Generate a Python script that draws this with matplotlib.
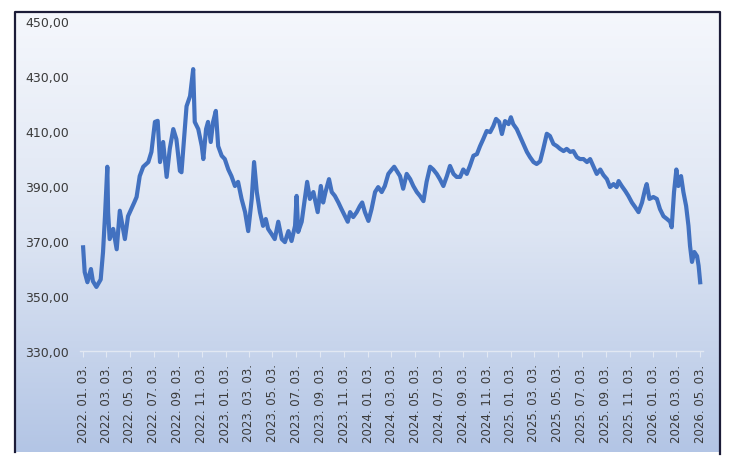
import numpy as np
import pandas as pd
import matplotlib
matplotlib.use('Agg')
import matplotlib.pyplot as plt
from matplotlib.colors import LinearSegmentedColormap
from matplotlib.ticker import FuncFormatter

# daily rate (days counted from the first date)
start_date = '2022-01-03'
day_offset = [0, 4, 11, 20, 25, 34, 45, 51, 56, 62, 64, 68, 77, 86, 94, 107, 115, 131, 137, 145,
              154, 167, 175, 184, 191, 197, 205, 214, 222, 231, 239, 248, 252, 258, 265, 274, 282, 286, 295, 304,
              308, 315, 320, 327, 333, 340, 346, 355, 363, 372, 380, 389, 397, 406, 415, 423, 432, 438, 445, 453,
              461, 468, 474, 483, 491, 500, 509, 517, 526, 534, 543, 547, 551, 560, 568, 574, 581, 590, 601, 609,
              615, 621, 630, 637, 645, 654, 662, 671, 678, 684, 692, 701, 709, 715, 722, 731, 739, 748, 756, 765,
              773, 782, 791, 797, 812, 820, 829, 838, 846, 855, 863, 872, 880, 889, 897, 906, 914, 923, 932, 940,
              949, 957, 966, 974, 983, 991, 1000, 1009, 1017, 1025, 1034, 1043, 1051, 1058, 1066, 1073, 1081, 1090, 1096, 1102,
              1111, 1120, 1128, 1137, 1145, 1154, 1162, 1171, 1179, 1188, 1196, 1205, 1214, 1222, 1231, 1239, 1248, 1256, 1265, 1273,
              1282, 1291, 1299, 1307, 1316, 1325, 1333, 1342, 1350, 1359, 1367, 1372, 1380, 1389, 1397, 1406, 1414, 1423, 1432, 1440,
              1444, 1451, 1461, 1470, 1478, 1487, 1496, 1504, 1508, 1514, 1520, 1525, 1532, 1538, 1545, 1551, 1555, 1560, 1566, 1573,
              1577, 1581]
rate = [367.7, 358.7, 355.0, 359.8, 355.4, 353.3, 356.0, 366.0, 379.0, 397.0, 380.5, 370.7, 374.4, 367.0, 381.0, 370.7, 379.0, 384.0, 386.0, 393.6,
        397.0, 398.7, 402.4, 413.3, 413.7, 398.7, 406.0, 393.3, 403.5, 410.7, 407.0, 395.5, 395.0, 406.0, 419.0, 422.7, 432.5, 413.3, 410.7, 404.5,
        399.8, 410.7, 413.3, 406.0, 413.3, 417.3, 404.5, 401.0, 399.8, 396.0, 393.6, 390.0, 391.5, 385.3, 380.5, 373.6, 385.3, 398.7, 387.8, 380.5,
        375.5, 378.0, 374.4, 372.5, 370.7, 377.0, 370.7, 369.6, 373.6, 370.0, 375.5, 386.4, 373.3, 377.0, 385.3, 391.5, 385.3, 387.8, 380.5, 390.0,
        384.0, 387.8, 392.5, 387.8, 386.4, 384.0, 381.6, 379.0, 377.0, 380.5, 378.7, 380.5, 382.7, 384.0, 380.5, 377.3, 381.6, 387.8, 389.6, 387.8,
        390.0, 394.4, 396.0, 397.0, 393.6, 389.0, 394.4, 392.5, 390.0, 387.8, 386.4, 384.5, 391.5, 397.0, 396.0, 394.4, 392.5, 390.0, 393.6, 397.3,
        394.4, 393.3, 393.3, 396.0, 394.4, 397.3, 401.0, 401.6, 404.5, 407.0, 410.0, 409.6, 411.8, 414.4, 413.3, 408.9, 413.6, 412.5, 415.0, 412.5,
        410.7, 407.8, 405.3, 402.4, 400.5, 398.7, 398.0, 399.0, 403.5, 409.0, 408.2, 405.3, 404.5, 403.5, 402.7, 403.5, 402.4, 402.7, 400.5, 399.8,
        399.8, 398.7, 399.8, 397.3, 394.4, 396.0, 394.0, 392.5, 389.6, 390.7, 389.6, 391.8, 390.0, 388.2, 386.4, 384.0, 382.4, 380.5, 384.0, 388.9,
        390.7, 385.3, 386.0, 385.3, 381.6, 379.0, 378.0, 377.0, 375.0, 387.8, 396.0, 390.0, 393.6, 387.8, 382.7, 375.5, 368.2, 362.4, 366.0, 364.5,
        361.0, 355.0]

tick_dates = ['2022-01-03', '2022-03-03', '2022-05-03', '2022-07-03', '2022-09-03', '2022-11-03',
              '2023-01-03', '2023-03-03', '2023-05-03', '2023-07-03', '2023-09-03', '2023-11-03',
              '2024-01-03', '2024-03-03', '2024-05-03', '2024-07-03', '2024-09-03', '2024-11-03',
              '2025-01-03', '2025-03-03', '2025-05-03', '2025-07-03', '2025-09-03', '2025-11-03',
              '2026-01-03', '2026-03-03', '2026-05-03']
y_ticks = [330, 350, 370, 390, 410, 430, 450]

start = pd.Timestamp(start_date)
dates = start + pd.to_timedelta(day_offset, unit='D')
ticks = pd.to_datetime(tick_dates)

fig = plt.figure(figsize=(7.34, 4.64), dpi=100)

# background panel with vertical gradient and dark frame
bg = fig.add_axes([0, 0, 1, 1])
grad = np.linspace(0, 1, 256).reshape(-1, 1)
cmap = LinearSegmentedColormap.from_list('panel', ['#f5f7fc', '#dde5f3', '#b3c5e5'])
bg.imshow(grad, extent=(15, 720, 453, 12), cmap=cmap, aspect='auto', interpolation='bilinear')
bg.plot([15, 15, 720, 720], [453, 12.5, 12.5, 455], color='#1c1c38', lw=1.6)
bg.set_xlim(0, 734)
bg.set_ylim(464, 0)
bg.axis('off')

ax = fig.add_axes([80 / 734, 1 - 352 / 464, 623.3 / 734, 330 / 464])
ax.patch.set_alpha(0)
ax.plot(dates, rate, color='#4271c0', lw=3.0, solid_joinstyle='round')

ax.set_ylim(330, 450)
ax.set_yticks(y_ticks)
ax.yaxis.set_major_formatter(FuncFormatter(lambda v, p: f'{v:.2f}'.replace('.', ',')))
ax.set_xlim(start - pd.Timedelta(days=8), dates[-1] + pd.Timedelta(days=8))
ax.set_xticks(ticks)
ax.set_xticklabels([d.strftime('%Y. %m. %d.') for d in ticks])

for s in ['left', 'top', 'right']:
    ax.spines[s].set_visible(False)
ax.spines['bottom'].set_color('#e2e8f3')
ax.spines['bottom'].set_linewidth(1.0)

ax.tick_params(axis='y', length=0, pad=8, labelsize=9, labelcolor='#3a3a3a')
ax.tick_params(axis='x', length=4, color='#e2e8f3', pad=5, labelsize=8.5,
               labelcolor='#3a3a3a', labelrotation=90)

fig.savefig('out.png', dpi=100)
